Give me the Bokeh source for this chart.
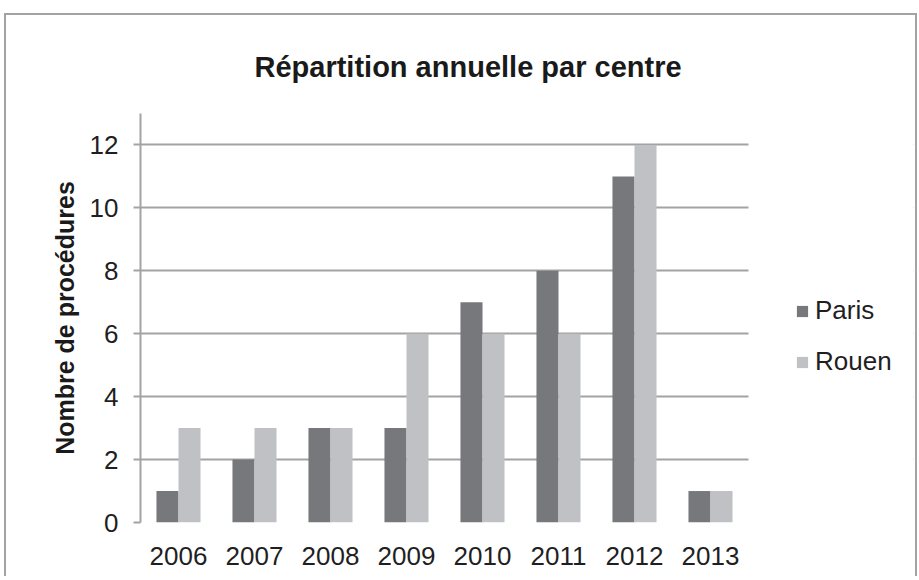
from bokeh.plotting import figure
from bokeh.models import (Range1d, FixedTicker, Legend, LegendItem,
                          ColumnDataSource, BoxAnnotation)
from bokeh.embed import file_html
from bokeh.resources import INLINE

years = ["2006", "2007", "2008", "2009", "2010", "2011", "2012", "2013"]
paris = [1, 2, 3, 3, 7, 8, 11, 1]
rouen = [3, 3, 3, 6, 6, 6, 12, 1]
y_ticks = [0, 2, 4, 6, 8, 10, 12]
title_text = "Répartition annuelle par centre"
y_label = "Nombre de procédures"

FONT = "Liberation Sans"
GRID = "#a3a3a3"
C_PARIS = "#77787b"
C_ROUEN = "#c0c1c4"

W, H = 913, 563
ML, MR, MT, MB = 134, 6, 98, 56
CAT_PX = 76.0                      # pixel width of one year slot
frame_w = W - ML - MR
n = len(years)

pos = [i + 0.5 for i in range(n)]
bw = 0.29
src = ColumnDataSource(dict(
    year=years, pos=pos, paris=paris, rouen=rouen,
    x_paris=[c - bw / 2 for c in pos], x_rouen=[c + bw / 2 for c in pos]))

p = figure(width=W, height=H, x_range=Range1d(0, frame_w / CAT_PX), y_range=Range1d(0, 13),
           output_backend="svg", toolbar_location=None,
           min_border_left=ML, min_border_right=MR, min_border_top=MT, min_border_bottom=MB)
p.styles = {"margin-left": "4px", "margin-top": "13px",
            "border-top": "2px solid #a3a3a3", "border-left": "2px solid #a3a3a3",
            "border-right": "2px solid #a3a3a3"}
p.outline_line_color = None
p.background_fill_color = "white"
p.border_fill_color = "white"

r1 = p.vbar(x="x_paris", top="paris", width=bw, source=src,
            fill_color=C_PARIS, line_color=None)
r2 = p.vbar(x="x_rouen", top="rouen", width=bw, source=src,
            fill_color=C_ROUEN, line_color=None)

# title
p.title.text = title_text
p.title.align = "left"
p.title.offset = 114
p.title.standoff = 62
p.title.text_font = FONT
p.title.text_font_size = "29px"
p.title.text_font_style = "bold"
p.title.text_color = "#1a1a1a"

# grid
p.xgrid.grid_line_color = None
p.ygrid.ticker = FixedTicker(ticks=y_ticks)
p.ygrid.grid_line_color = GRID
p.ygrid.grid_line_width = 2

# plot area ends after the last year: blank out the rest (legend zone)
p.add_layout(BoxAnnotation(left=n, fill_color="white", fill_alpha=1.0, line_color=None))

# y axis
p.yaxis.ticker = FixedTicker(ticks=y_ticks)
p.yaxis.axis_line_color = GRID
p.yaxis.axis_line_width = 2
p.yaxis.major_tick_line_color = GRID
p.yaxis.major_tick_line_width = 2
p.yaxis.major_tick_out = 7
p.yaxis.major_tick_in = 0
p.yaxis.minor_tick_line_color = None
p.yaxis.major_label_text_font = FONT
p.yaxis.major_label_text_font_size = "26px"
p.yaxis.major_label_text_color = "#1f1f1f"
p.yaxis.major_label_standoff = 15
p.yaxis.axis_label = y_label
p.yaxis.axis_label_text_font = FONT
p.yaxis.axis_label_text_font_size = "25px"
p.yaxis.axis_label_text_font_style = "bold"
p.yaxis.axis_label_text_color = "#1a1a1a"
p.yaxis.axis_label_standoff = 8

# x axis (year labels only; the 0 grid line acts as the baseline)
p.xaxis.ticker = FixedTicker(ticks=pos)
p.xaxis.major_label_overrides = {c: y for c, y in zip(pos, years)}
p.xaxis.axis_line_color = None
p.xaxis.major_tick_line_color = None
p.xaxis.minor_tick_line_color = None
p.xaxis.major_label_text_font = FONT
p.xaxis.major_label_text_font_size = "26px"
p.xaxis.major_label_text_color = "#1f1f1f"
p.xaxis.major_label_standoff = 18

legend = Legend(items=[LegendItem(label="Paris", renderers=[r1]),
                       LegendItem(label="Rouen", renderers=[r2])],
                location=(655, 145), orientation="vertical")
legend.glyph_width = 14
legend.glyph_height = 14
legend.label_standoff = 6
legend.spacing = 20
legend.padding = 0
legend.margin = 0
legend.border_line_color = None
legend.background_fill_alpha = 0
legend.label_text_font = FONT
legend.label_text_font_size = "26px"
legend.label_text_color = "#1f1f1f"
legend.label_height = 14
p.add_layout(legend, "center")

open("out.html", "w").write(file_html(p, INLINE))
